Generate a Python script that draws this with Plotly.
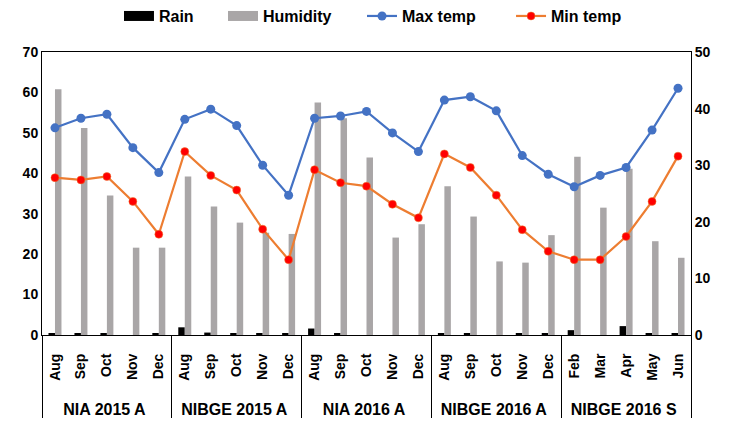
import plotly.graph_objects as go

groups = ["NIA 2015 A", "NIBGE 2015 A", "NIA 2016 A", "NIBGE 2016 A", "NIBGE 2016 S"]
group_months = [
    ["Aug", "Sep", "Oct", "Nov", "Dec"],
    ["Aug", "Sep", "Oct", "Nov", "Dec"],
    ["Aug", "Sep", "Oct", "Nov", "Dec"],
    ["Aug", "Sep", "Oct", "Nov", "Dec"],
    ["Feb", "Mar", "Apr", "May", "Jun"],
]

rain = [0.3, 0.3, 0.3, 0.0, 0.3,
        1.9, 0.6, 0.3, 0.3, 0.3,
        1.6, 0.3, 0.0, 0.0, 0.0,
        0.3, 0.3, 0.0, 0.3, 0.3,
        1.2, 0.0, 2.2, 0.3, 0.3]
humidity = [60.8, 51.2, 34.5, 21.6, 21.6,
            39.2, 31.8, 27.8, 25.3, 25.0,
            57.5, 53.6, 43.9, 24.1, 27.4,
            36.8, 29.3, 18.2, 17.9, 24.7,
            44.1, 31.5, 41.1, 23.2, 19.1]
max_temp = [36.6, 38.3, 39.0, 33.1, 28.7,
            38.1, 39.9, 37.0, 30.0, 24.7,
            38.3, 38.7, 39.5, 35.7, 32.4,
            41.5, 42.1, 39.6, 31.7, 28.4,
            26.2, 28.2, 29.6, 36.2, 43.6]
min_temp = [27.8, 27.4, 28.0, 23.6, 17.8,
            32.4, 28.2, 25.6, 18.7, 13.3,
            29.2, 26.9, 26.3, 23.1, 20.7,
            32.0, 29.6, 24.7, 18.6, 14.8,
            13.3, 13.3, 17.4, 23.6, 31.6]

# outer (group) labels are pushed one line down and drawn a bit larger
group_labels = ["<br><span style='font-size:16px'>%s</span>" % g for g in groups]
x_outer = [lbl for lbl, ms in zip(group_labels, group_months) for _ in ms]
x_inner = [m for ms in group_months for m in ms]
x = [x_outer, x_inner]
n_cat = len(x_inner)

FONT = "Liberation Sans, Arial, sans-serif"
RAIN_C = "#000000"
HUM_C = "#A9A6A7"
MAX_C = "#4472C4"
MIN_LINE_C = "#ED7D31"
MIN_MK_C = "#FF0000"

fig = go.Figure()
fig.add_trace(go.Bar(x=x, y=rain, name="Rain", showlegend=False,
                     marker=dict(color=RAIN_C, line=dict(width=0))))
fig.add_trace(go.Bar(x=x, y=humidity, name="Humidity", showlegend=False,
                     marker=dict(color=HUM_C, line=dict(width=0))))
fig.add_trace(go.Scatter(x=x, y=max_temp, name="Max temp", yaxis="y2", mode="lines+markers",
                         legend="legend3",
                         line=dict(color=MAX_C, width=2.2),
                         marker=dict(color=MAX_C, size=9)))
fig.add_trace(go.Scatter(x=x, y=min_temp, name="Min temp", yaxis="y2", mode="lines+markers",
                         legend="legend4",
                         line=dict(color=MIN_LINE_C, width=2.2),
                         marker=dict(color=MIN_MK_C, size=8, line=dict(color=MIN_LINE_C, width=0.5))))
# legend-only entries giving the bar series wide rectangular swatches
fig.add_trace(go.Scatter(x=x, y=[None] * n_cat, name="Rain", mode="lines", legend="legend",
                         line=dict(color=RAIN_C, width=10), hoverinfo="skip"))
fig.add_trace(go.Scatter(x=x, y=[None] * n_cat, name="Humidity", mode="lines", legend="legend2",
                         line=dict(color=HUM_C, width=10), hoverinfo="skip"))

leg_common = dict(orientation="h", xanchor="left", y=1.127, yanchor="middle",
                  font=dict(size=16, family=FONT, weight="bold"),
                  bgcolor="rgba(0,0,0,0)", borderwidth=0)

fig.update_layout(
    width=724, height=420,
    margin=dict(l=34, r=41, t=44, b=93, autoexpand=False),
    paper_bgcolor="white", plot_bgcolor="white",
    barmode="group", bargap=0.5, bargroupgap=0,
    font=dict(family=FONT, color="black"),
    legend=dict(x=0.1186, **leg_common),
    legend2=dict(x=0.2789, **leg_common),
    legend3=dict(x=0.4931, **leg_common),
    legend4=dict(x=0.7227, **leg_common),
    xaxis=dict(type="multicategory", range=[-0.5, n_cat - 0.5],
               showline=True, linecolor="black", linewidth=1,
               mirror=True, showgrid=False, tickangle=-90, ticks="", automargin=False,
               ticklabelstandoff=12,
               tickfont=dict(size=14, family=FONT, weight="bold"),
               showdividers=True, dividercolor="black", dividerwidth=1),
    yaxis=dict(range=[0, 70], dtick=10, showgrid=False, zeroline=False, automargin=False,
               showline=True, linecolor="black", linewidth=1, ticks="",
               tickfont=dict(size=14, family=FONT, weight="bold")),
    yaxis2=dict(range=[0, 50], dtick=10, overlaying="y", side="right", showgrid=False,
                zeroline=False, showline=True, linecolor="black", linewidth=1, ticks="",
                automargin=False,
                tickfont=dict(size=14, family=FONT, weight="bold")),
)

fig.write_html("out.html")
